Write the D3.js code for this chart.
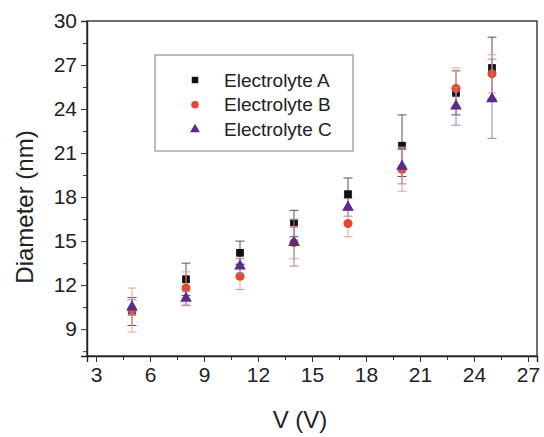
<!DOCTYPE html>
<html>
<head>
<meta charset="utf-8">
<script src="https://cdn.jsdelivr.net/npm/d3@7"></script>
<style>
  body { margin: 0; background: #fff; }
  text { font-family: "Liberation Sans", Arial, sans-serif; fill: #222; }
</style>
</head>
<body>
<script>
var width = 544,
    height = 437;

// data
var voltage = [5, 8, 11, 14, 17, 20, 23, 25];
var diamA = [10.2, 12.4, 14.2, 16.2, 18.2, 21.5, 25.1, 26.8];
var errA  = [0.95, 1.1, 0.8, 0.9, 1.1, 2.1, 1.5, 2.1];
var diamB = [10.3, 11.8, 12.6, 14.9, 16.2, 19.9, 25.4, 26.4];
var errB  = [1.5, 1.1, 0.9, 1.1, 0.9, 1.5, 1.4, 1.3];
var diamC = [10.5, 11.1, 13.3, 14.9, 17.3, 20.1, 24.2, 24.7];
var errC  = [0.5, 0.5, 0.5, 1.6, 0.6, 1.2, 1.3, 2.7];

var seriesNames = ["Electrolyte A", "Electrolyte B", "Electrolyte C"];
var xTicks = [3, 6, 9, 12, 15, 18, 21, 24, 27];
var yTicks = [9, 12, 15, 18, 21, 24, 27, 30];

var margin = {left: 87, right: 7, top: 21, bottom: 81};

var x = d3.scaleLinear().domain([2.5, 27.5]).range([margin.left, width - margin.right]);
var y = d3.scaleLinear().domain([7.17, 30]).range([height - margin.bottom, margin.top]);

var svg = d3.select("body")
    .append("svg")
    .attr("width", width)
    .attr("height", height);

var series = [
  {name: seriesNames[0], v: diamA, e: errA, color: "#111111", bar: "#555555", shape: d3.symbolSquare, size: 60},
  {name: seriesNames[1], v: diamB, e: errB, color: "#e5482c", bar: "#eea090", shape: d3.symbolCircle, size: 64},
  {name: seriesNames[2], v: diamC, e: errC, color: "#5b2b8c", bar: "#9a84b8", shape: d3.symbolTriangle, size: 60}
];

//minor ticks
var xMinor = d3.range(4.5, 27, 3);
var yMinor = d3.range(7.5, 30, 3);

svg.append("g")
    .attr("transform", "translate(" + margin.left + ",0)")
    .call(d3.axisLeft(y).tickValues(yMinor).tickSize(4).tickFormat(""))
    .call(function(g) { g.select(".domain").remove(); });

svg.append("g")
    .attr("transform", "translate(0," + (height - margin.bottom) + ")")
    .call(d3.axisBottom(x).tickValues(xMinor).tickSize(4).tickFormat(""))
    .call(function(g) { g.select(".domain").remove(); });

//frame
svg.append("rect")
    .attr("x", margin.left)
    .attr("y", margin.top)
    .attr("width", width - margin.left - margin.right)
    .attr("height", height - margin.top - margin.bottom)
    .style("fill", "none")
    .style("stroke", "#333")
    .style("stroke-width", 1.4);

var yAxis = svg.append("g")
    .attr("transform", "translate(" + margin.left + ",0)")
    .call(d3.axisLeft(y).tickValues(yTicks).tickSize(6).tickPadding(4));

var xAxis = svg.append("g")
    .attr("transform", "translate(0," + (height - margin.bottom) + ")")
    .call(d3.axisBottom(x).tickValues(xTicks).tickSize(6).tickPadding(5));

[xAxis, yAxis].forEach(function(a) {
  a.select(".domain").style("stroke", "#222").style("stroke-width", 1.4);
  a.selectAll("text").style("font-size", "21px").style("fill", "#222")
      .style("font-family", "'Liberation Sans', Arial, sans-serif");
});
svg.selectAll(".tick line").style("stroke", "#333");

//axis titles
svg.append("text")
    .attr("x", 300)
    .attr("y", 428)
    .attr("text-anchor", "middle")
    .style("font-size", "24px")
    .text("V (V)");

svg.append("text")
    .attr("transform", "translate(33,207) rotate(-90)")
    .attr("text-anchor", "middle")
    .style("font-size", "24px")
    .text("Diameter (nm)");

//error bars and markers
series.forEach(function(s) {
  var g = svg.append("g");
  var bars = g.selectAll(".err")
      .data(voltage)
      .enter().append("g")
        .style("stroke", s.bar)
        .style("stroke-width", 1);

  bars.append("line")
      .attr("x1", function(d) { return x(d); })
      .attr("x2", function(d) { return x(d); })
      .attr("y1", function(d, i) { return y(s.v[i] - s.e[i]); })
      .attr("y2", function(d, i) { return y(s.v[i] + s.e[i]); });

  [-1, 1].forEach(function(sign) {
    bars.append("line")
        .attr("x1", function(d) { return x(d) - 4.5; })
        .attr("x2", function(d) { return x(d) + 4.5; })
        .attr("y1", function(d, i) { return y(s.v[i] + sign * s.e[i]); })
        .attr("y2", function(d, i) { return y(s.v[i] + sign * s.e[i]); });
  });

  g.selectAll(".pt")
      .data(voltage)
      .enter().append("path")
        .attr("d", d3.symbol().type(s.shape).size(s.size))
        .attr("transform", function(d, i) { return "translate(" + x(d) + "," + y(s.v[i]) + ")"; })
        .style("fill", s.color);
});

//legend
var legend = svg.append("g");
legend.append("rect")
    .attr("x", 155)
    .attr("y", 55)
    .attr("width", 198)
    .attr("height", 96)
    .style("fill", "#fff")
    .style("stroke", "#a8a8a8")
    .style("stroke-width", 1.5);

var item = legend.selectAll(".item")
    .data(series)
    .enter().append("g")
      .attr("transform", function(d, i) { return "translate(195," + (80 + i * 24.7) + ")"; });

item.append("path")
    .attr("d", function(d) { return d3.symbol().type(d.shape).size(d.size * 0.7)(); })
    .style("fill", function(d) { return d.color; });

item.append("text")
    .attr("x", 29)
    .attr("y", 6.5)
    .style("font-size", "19px")
    .text(function(d) { return d.name; });
</script>
</body>
</html>
